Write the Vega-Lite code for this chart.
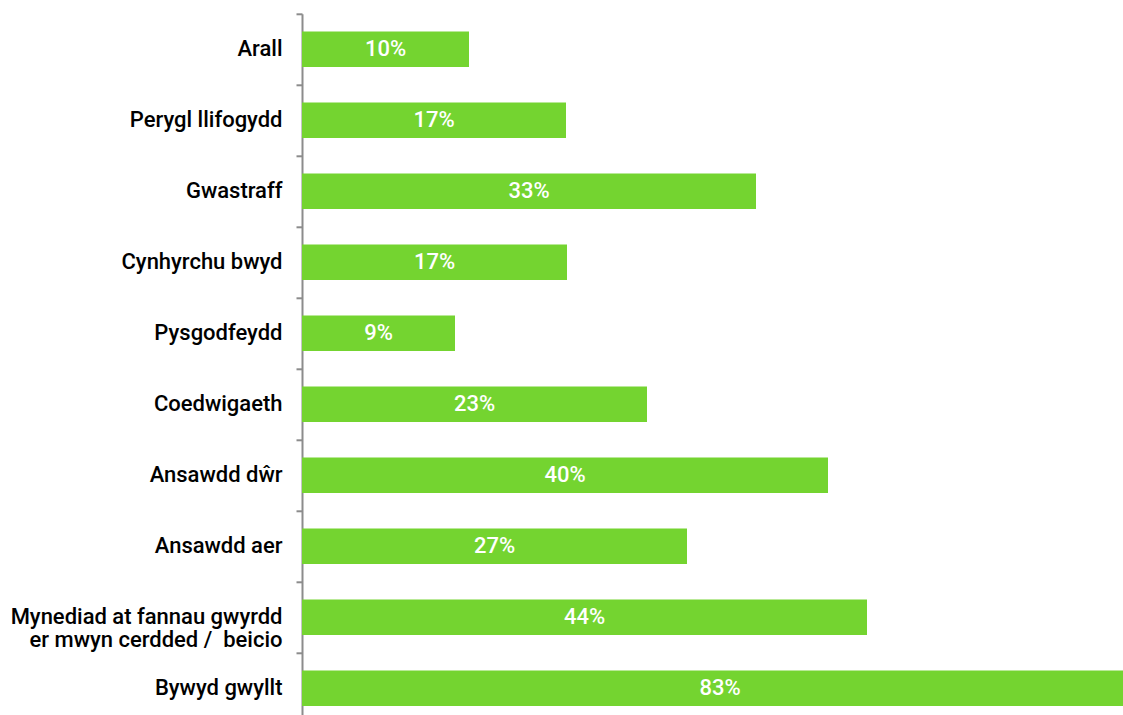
{
  "$schema": "https://vega.github.io/schema/vega-lite/v6.json",
  "width": 836,
  "height": 710,
  "padding": {"top": 12.8, "left": 0, "right": 0, "bottom": 0},
  "autosize": {"type": "pad"},
  "background": "white",
  "config": {"view": {"stroke": null}, "font": "Roboto"},
  "data": {
    "values": [
      {"category": "Arall", "share": 0.10, "bar": 16.7},
      {"category": "Perygl llifogydd", "share": 0.17, "bar": 26.4},
      {"category": "Gwastraff", "share": 0.33, "bar": 45.4},
      {"category": "Cynhyrchu bwyd", "share": 0.17, "bar": 26.5},
      {"category": "Pysgodfeydd", "share": 0.09, "bar": 15.3},
      {"category": "Coedwigaeth", "share": 0.23, "bar": 34.5},
      {"category": "Ansawdd dŵr", "share": 0.40, "bar": 52.6},
      {"category": "Ansawdd aer", "share": 0.27, "bar": 38.5},
      {"category": "Mynediad at fannau gwyrdd\ner mwyn cerdded / \u00a0beicio", "share": 0.44, "bar": 56.5},
      {"category": "Bywyd gwyllt", "share": 0.83, "bar": 83.6}
    ]
  },
  "encoding": {
    "y": {
      "field": "category",
      "type": "nominal",
      "sort": null,
      "scale": {"paddingInner": 0.5, "paddingOuter": 0.25},
      "axis": {
        "title": null,
        "labelExpr": "isValid(datum.value) ? split(datum.value, '\\n') : ''",
        "labelFontSize": 22,
        "labelFontWeight": 500,
        "labelLineHeight": 23,
        "labelColor": "#000000",
        "labelFont": "Roboto",
        "labelPadding": 14,
        "labelLimit": 400,
        "tickSize": 6,
        "tickWidth": 2,
        "tickColor": "#8c8c8c",
        "bandPosition": -0.5,
        "tickExtra": false,
        "domainColor": "#8c8c8c",
        "domainWidth": 2,
        "minExtent": 302,
        "maxExtent": 302,
        "grid": false
      }
    }
  },
  "layer": [
    {
      "mark": {"type": "bar", "color": "#74D430"},
      "encoding": {
        "x": {
          "field": "bar",
          "type": "quantitative",
          "scale": {"domain": [0, 83.6], "nice": false},
          "axis": null
        }
      }
    },
    {
      "mark": {"type": "text", "color": "white", "fontSize": 22, "fontWeight": 500, "align": "center", "baseline": "middle", "font": "Roboto"},
      "encoding": {
        "x": {
          "field": "bar",
          "type": "quantitative",
          "scale": {"domain": [0, 167.2], "nice": false},
          "axis": null
        },
        "text": {"field": "share", "type": "quantitative", "format": ".0%"}
      }
    }
  ],
  "resolve": {"scale": {"x": "independent"}}
}
